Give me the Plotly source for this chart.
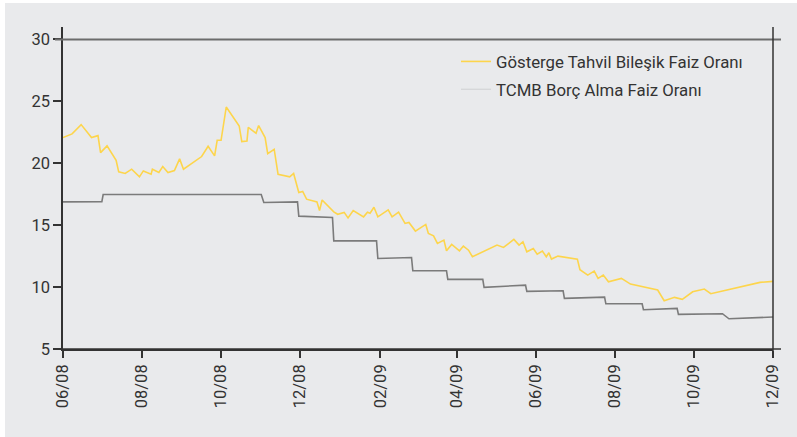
import plotly.graph_objects as go

# Gösterge Tahvil Bileşik Faiz Oranı
bond_dates = [
    "2008-06-01", "2008-06-08", "2008-06-15", "2008-06-23", "2008-06-28", "2008-06-30",
    "2008-07-05", "2008-07-12", "2008-07-14", "2008-07-19", "2008-07-24", "2008-07-30",
    "2008-08-02", "2008-08-08", "2008-08-09", "2008-08-14", "2008-08-17", "2008-08-21",
    "2008-08-26", "2008-08-30", "2008-09-02", "2008-09-16", "2008-09-21", "2008-09-26",
    "2008-09-28", "2008-10-01", "2008-10-05", "2008-10-15", "2008-10-17", "2008-10-21",
    "2008-10-22", "2008-10-28", "2008-10-30", "2008-11-04", "2008-11-06", "2008-11-11",
    "2008-11-14", "2008-11-23", "2008-11-26", "2008-11-30", "2008-12-03", "2008-12-06",
    "2008-12-14", "2008-12-16", "2008-12-18", "2008-12-27", "2008-12-30", "2009-01-04",
    "2009-01-07", "2009-01-11", "2009-01-19", "2009-01-22", "2009-01-24", "2009-01-27",
    "2009-01-30", "2009-02-07", "2009-02-10", "2009-02-15", "2009-02-20", "2009-02-23",
    "2009-02-28", "2009-03-08", "2009-03-10", "2009-03-14", "2009-03-17", "2009-03-22",
    "2009-03-24", "2009-03-28", "2009-04-03", "2009-04-06", "2009-04-10", "2009-04-13",
    "2009-05-02", "2009-05-07", "2009-05-15", "2009-05-19", "2009-05-22", "2009-05-25",
    "2009-05-30", "2009-06-02", "2009-06-06", "2009-06-09", "2009-06-11", "2009-06-13",
    "2009-06-18", "2009-07-03", "2009-07-05", "2009-07-11", "2009-07-16", "2009-07-19",
    "2009-07-23", "2009-07-27", "2009-08-06", "2009-08-13", "2009-09-03", "2009-09-08",
    "2009-09-16", "2009-09-22", "2009-09-30", "2009-10-09", "2009-10-14", "2009-11-21",
    "2009-12-01",
]
bond_values = [
    22.07, 22.37, 23.12, 22.07, 22.23, 20.86,
    21.40, 20.24, 19.30, 19.17, 19.52, 18.90,
    19.38, 19.11, 19.52, 19.25, 19.73, 19.25,
    19.41, 20.35, 19.52, 20.54, 21.37, 20.59,
    21.85, 21.85, 24.54, 23.01, 21.75, 21.80,
    22.90, 22.42, 23.04, 22.07, 20.78, 21.13,
    19.11, 18.90, 19.17, 17.64, 17.72, 17.10,
    16.88, 16.18, 17.03, 16.07, 15.88, 16.03,
    15.58, 16.18, 15.67, 16.05, 15.96, 16.45,
    15.67, 16.23, 15.67, 16.05, 15.14, 15.22,
    14.52, 15.06, 14.33, 14.14, 13.52, 13.79,
    12.93, 13.44, 12.93, 13.31, 12.98, 12.45,
    13.39, 13.20, 13.85, 13.39, 13.66, 12.85,
    13.12, 12.66, 12.90, 12.45, 12.77, 12.26,
    12.50, 12.26, 11.40, 10.97, 11.29, 10.70,
    10.97, 10.43, 10.70, 10.24, 9.76, 8.90,
    9.17, 9.01, 9.62, 9.84, 9.46, 10.38,
    10.46,
]

# TCMB Borç Alma Faiz Oranı
cb_dates = [
    "2008-06-01", "2008-07-01", "2008-07-02", "2008-11-01", "2008-11-03", "2008-11-29",
    "2008-11-30", "2008-12-26", "2008-12-27", "2009-01-29", "2009-01-30", "2009-02-25",
    "2009-02-26", "2009-03-24", "2009-03-25", "2009-04-21", "2009-04-22", "2009-05-24",
    "2009-05-25", "2009-06-22", "2009-06-23", "2009-07-24", "2009-07-25", "2009-08-22",
    "2009-08-23", "2009-09-18", "2009-09-19", "2009-10-23", "2009-10-28", "2009-12-01",
]
cb_values = [
    16.88, 16.90, 17.47, 17.47, 16.83, 16.88,
    15.73, 15.62, 13.73, 13.73, 12.31, 12.39,
    11.32, 11.32, 10.62, 10.62, 9.98, 10.16,
    9.65, 9.70, 9.09, 9.19, 8.65, 8.65,
    8.17, 8.28, 7.80, 7.85, 7.44, 7.58,
]

series_names = ["Gösterge Tahvil Bileşik Faiz Oranı", "TCMB Borç Alma Faiz Oranı"]
y_ticks = [5, 10, 15, 20, 25, 30]

YELLOW = "#fdd54c"
GRAY = "#7b7b7b"
LEGEND_GRAY = "#d3d4d6"
BG = "#e9eaec"
AX = "#333333"
FONT = "Roboto"

fig = go.Figure()
fig.add_trace(go.Scatter(x=bond_dates, y=bond_values, mode="lines", name=series_names[0],
                         line=dict(color=YELLOW, width=1.6), legendgroup="a"))
fig.add_trace(go.Scatter(x=cb_dates, y=cb_values, mode="lines", name=series_names[1],
                         line=dict(color=GRAY, width=1.6), showlegend=False))
# legend entry (drawn with a light swatch as in the reference)
fig.add_trace(go.Scatter(x=[None], y=[None], mode="lines", name=series_names[1],
                         line=dict(color=LEGEND_GRAY, width=1.2), legendgroup="b"))

W, H = 797, 437
L, R, T, B = 63, 24, 27, 88
pw, ph = W - L - R, H - T - B

def px(x):
    return (x - L) / pw

def py(y):
    return (H - B - y) / ph

shapes = [
    # grey panel
    dict(type="rect", xref="paper", yref="paper", x0=px(5), x1=px(797), y0=py(437), y1=py(3),
         fillcolor=BG, line=dict(width=0), layer="below"),
    # top line at 30
    dict(type="line", xref="paper", yref="y", x0=px(55), x1=px(781), y0=30, y1=30,
         line=dict(color="#6c6c6c", width=2)),
    # bottom axis extension
    dict(type="line", xref="paper", yref="paper", x0=0, x1=px(781), y0=0, y1=0,
         line=dict(color=AX, width=1.5)),
    # right vertical line
    dict(type="line", xref="paper", yref="paper", x0=1, x1=1, y0=py(356), y1=1,
         line=dict(color=AX, width=1.5)),
]

fig.update_layout(
    width=W, height=H,
    margin=dict(l=L, r=R, t=T, b=B),
    paper_bgcolor="white",
    plot_bgcolor="rgba(0,0,0,0)",
    font=dict(family=FONT, size=16, color=AX),
    shapes=shapes,
    showlegend=True,
    legend=dict(x=px(456), y=py(44), xanchor="left", yanchor="top",
                bgcolor="rgba(0,0,0,0)", traceorder="grouped", tracegroupgap=3,
                font=dict(family=FONT, size=16.8, color=AX)),
    xaxis=dict(
        type="date", range=["2008-06-01", "2009-12-01"],
        tick0="2008-06-01", dtick="M2", tickformat="%m/%y", tickangle=-90,
        showgrid=False, zeroline=False, showline=True, linecolor=AX, linewidth=1.5,
        ticks="outside", ticklen=7, tickwidth=1.5, tickcolor=AX,
        tickfont=dict(family=FONT, size=16.5, color=AX),
    ),
    yaxis=dict(
        range=[5, 31], tickvals=y_ticks, showgrid=False, zeroline=False,
        showline=True, linecolor=AX, linewidth=1.5,
        ticks="outside", ticklen=8, tickwidth=1.5, tickcolor=AX,
        tickfont=dict(family=FONT, size=16.5, color=AX),
    ),
)

fig.write_html("out.html", config={"displayModeBar": False},
               post_script="document.body.style.margin='0px';")
